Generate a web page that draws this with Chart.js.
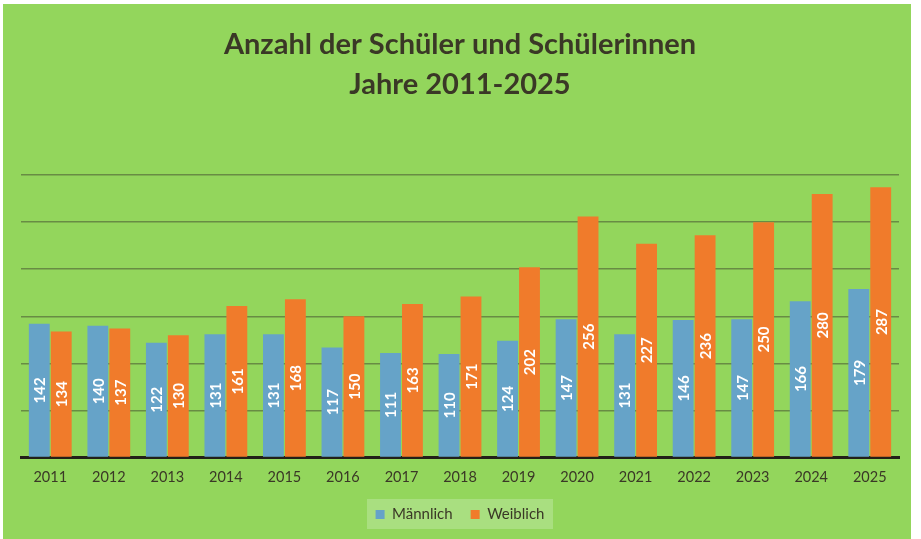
<!DOCTYPE html>
<html lang="de">
  <head>
    <meta charset="UTF-8" />
    <title>Anzahl der Schüler und Schülerinnen</title>
    <script src="https://cdn.jsdelivr.net/npm/chart.js"></script>
    <style>
      body {
        margin: 0;
        background-color: #ffffff;
      }
      .chart-box {
        position: absolute;
        left: 3px;
        top: 4px;
        width: 908px;
        height: 535px;
        background-color: #93d65c;
      }
    </style>
  </head>
  <body>
    <div class="chart-box">
      <canvas id="schueler-chart"></canvas>
    </div>

    <script>
      const years = [
        "2011", "2012", "2013", "2014", "2015", "2016", "2017", "2018",
        "2019", "2020", "2021", "2022", "2023", "2024", "2025",
      ];
      const maennlich = [142, 140, 122, 131, 131, 117, 111, 110, 124, 147, 131, 146, 147, 166, 179];
      const weiblich = [134, 137, 130, 161, 168, 150, 163, 171, 202, 256, 227, 236, 250, 280, 287];

      const textColor = "#3a3826";

      // white rotated value labels in the middle of each bar
      const barLabels = {
        id: "barLabels",
        afterDatasetsDraw(chart) {
          const ctx = chart.ctx;
          ctx.save();
          ctx.fillStyle = "#ffffff";
          ctx.font = "bold 15px Lato";
          ctx.textAlign = "center";
          ctx.textBaseline = "middle";
          chart.data.datasets.forEach((ds, i) => {
            chart.getDatasetMeta(i).data.forEach((bar, j) => {
              const mid = (bar.y + bar.base) / 2;
              ctx.save();
              ctx.translate(bar.x, mid);
              ctx.rotate(-Math.PI / 2);
              ctx.fillText(ds.data[j], 0, 1);
              ctx.restore();
            });
          });
          ctx.restore();
        },
      };

      // lighter box behind the legend
      const legendBox = {
        id: "legendBox",
        beforeDraw(chart) {
          const lg = chart.legend;
          if (!lg) return;
          const ctx = chart.ctx;
          ctx.save();
          ctx.fillStyle = "#a9df80";
          const w = 186;
          const x = (lg.left + lg.right) / 2 - w / 2;
          ctx.fillRect(x, lg.top + 10, w, 30);
          ctx.restore();
        },
      };

      new Chart(document.getElementById("schueler-chart"), {
        type: "bar",
        data: {
          labels: years,
          datasets: [
            {
              label: "Männlich",
              data: maennlich,
              backgroundColor: "#66a3c8",
              categoryPercentage: 0.75,
              barPercentage: 0.95,
            },
            {
              label: "Weiblich",
              data: weiblich,
              backgroundColor: "#f07b2b",
              categoryPercentage: 0.75,
              barPercentage: 0.95,
            },
          ],
        },
        options: {
          responsive: true,
          maintainAspectRatio: false,
          animation: false,
          layout: {
            padding: { left: 18, right: 12, bottom: 7 },
          },
          plugins: {
            title: {
              display: true,
              text: ["Anzahl der Schüler und Schülerinnen", "Jahre 2011-2025"],
              color: textColor,
              font: { family: "Lato", size: 29, weight: "bold", lineHeight: 1.38 },
              padding: { top: 21, bottom: 70 },
            },
            legend: {
              position: "bottom",
              labels: {
                color: textColor,
                font: { family: "Lato", size: 15 },
                boxWidth: 9,
                boxHeight: 9,
                padding: 18,
              },
            },
            tooltip: { enabled: false },
          },
          scales: {
            x: {
              grid: { display: false },
              border: { color: "#222018", width: 3 },
              ticks: {
                color: textColor,
                font: { family: "Lato", size: 14.5 },
                padding: 3,
              },
            },
            y: {
              min: 0,
              max: 300,
              ticks: { display: false, stepSize: 50 },
              border: { display: false },
              grid: {
                color: "rgba(70, 80, 50, 0.55)",
                lineWidth: 1.5,
                drawTicks: false,
              },
            },
          },
        },
        plugins: [legendBox, barLabels],
      });
    </script>
  </body>
</html>
